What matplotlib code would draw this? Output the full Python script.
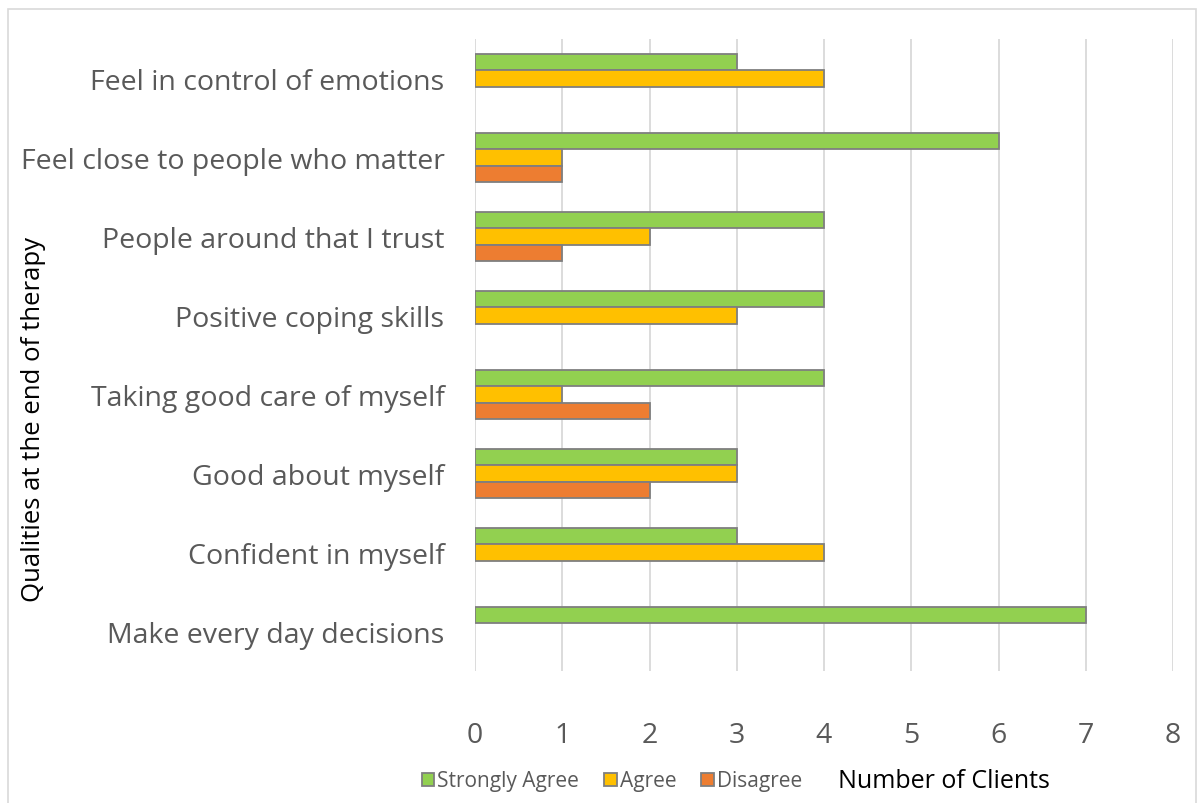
import numpy as np
import matplotlib
matplotlib.use('Agg')
import matplotlib.pyplot as plt
import matplotlib.patches as patches

# categories from bottom to top
categories = ['Make every day decisions', 'Confident in myself', 'Good about myself',
              'Taking good care of myself', 'Positive coping skills',
              'People around that I trust', 'Feel close to people who matter',
              'Feel in control of emotions']
strongly_agree = [7, 3, 3, 4, 4, 4, 6, 3]
agree = [0, 4, 3, 1, 3, 2, 1, 4]
disagree = [0, 0, 2, 2, 0, 1, 1, 0]

series_names = ['Strongly Agree', 'Agree', 'Disagree']
colors = ['#92D050', '#FFC000', '#ED7D31']
x_ticks = [0, 1, 2, 3, 4, 5, 6, 7, 8]

plt.rcParams['font.family'] = ['Open Sans', 'DejaVu Sans']

fig = plt.figure(figsize=(12.04, 8.04), dpi=100)
fig.patch.set_facecolor('white')
ax = fig.add_axes([475/1204, 1 - 672/804, (1173-475)/1204, (672-40)/804])

# outer chart frame
fig.patches.append(patches.Rectangle((8/1204, -0.01), (1196-8)/1204, 1 - 10/804 + 0.01,
                                     transform=fig.transFigure, fill=False,
                                     ec='#d9d9d9', lw=1.2))

y = np.arange(len(categories))
h = 0.209
offsets = [h, 0, -h]
handles = []
for vals, off, c, name in zip([strongly_agree, agree, disagree], offsets, colors, series_names):
    vals = np.array(vals)
    m = vals > 0
    ax.barh(y[m] + off, vals[m], height=h, color=c, edgecolor='#7f7f7f', linewidth=1.3, zorder=3)
    handles.append(patches.Patch(facecolor=c, edgecolor='#7f7f7f', linewidth=1.3, label=name))

ax.set_xlim(0, 8)
ax.set_ylim(-0.5, len(categories) - 0.5)
ax.set_xticks(x_ticks)
ax.set_yticks(y)
ax.set_yticklabels(categories)
ax.xaxis.grid(True, color='#d9d9d9', linewidth=1.3, zorder=0)
ax.yaxis.grid(False)
for s in ax.spines.values():
    s.set_visible(False)
ax.tick_params(axis='both', length=0, labelsize=20.5, labelcolor='#595959')
ax.tick_params(axis='x', pad=36)
ax.tick_params(axis='y', pad=22)

fig.legend(handles=handles, loc='center', bbox_to_anchor=(612/1204, 1 - 782/804), ncol=3,
           frameon=False, fontsize=15, handlelength=0.6, handleheight=0.6,
           handletextpad=0.15, columnspacing=1.2, labelcolor='#595959')
fig.text(944/1204, 1 - 782/804, 'Number of Clients', ha='center', va='center',
         fontsize=18, color='black')
fig.text(34/1204, 1 - 420/804, 'Qualities at the end of therapy', ha='center', va='center',
         rotation=90, fontsize=18.5, color='black')

fig.savefig('out.png', dpi=100)
